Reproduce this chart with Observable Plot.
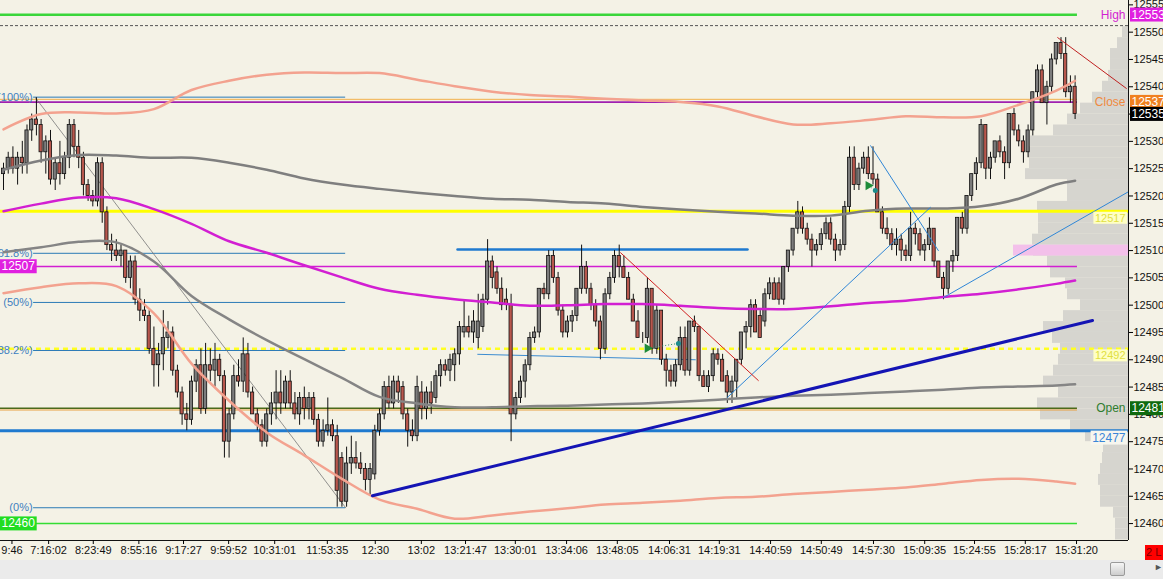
<!DOCTYPE html>
<html>
<head>
<meta charset="utf-8">
<script src="https://cdn.jsdelivr.net/npm/d3@7"></script>
<script src="https://cdn.jsdelivr.net/npm/@observablehq/plot@0.6"></script>
<style>
  body { margin: 0; width: 1163px; height: 579px; overflow: hidden; position: relative; background: #ebebeb; font-family: "Liberation Sans", Arial, sans-serif; }
  #chart svg { display: block; }
  #thumb { position: absolute; left: 1110px; top: 562px; width: 15px; height: 14px; box-sizing: border-box; border: 1px solid #9a9a9a; border-radius: 2px; background: linear-gradient(#f6f6f6, #cdcdcd); }
  #arrow { position: absolute; left: 1154px; top: 562px; font-size: 9px; color: #555; }
  #mode { position: absolute; left: 1145px; top: 545px; width: 18px; height: 15px; background: #ff0000; color: #7a0000; font-size: 11px; line-height: 15px; overflow: hidden; white-space: nowrap; padding-left: 1px; }
</style>
</head>
<body>
<div id="chart"></div>
<div id="thumb"></div>
<div id="arrow">&#9658;</div>
<div id="mode">2 L</div>
<script>
// candles [open, high, low, close], one per bar
const ohlc = [
  [12524,12526,12521,12525],[12525,12528,12524,12527],[12527,12529,12524,12525],[12525,12528,12522,12527],[12527,12530,12524,12526],
  [12526,12533,12524,12532],[12532,12535,12530,12534],[12534,12538,12531,12533],[12533,12534,12526,12528],[12528,12531,12524,12530],
  [12530,12532,12522,12523],[12523,12527,12521,12526],[12526,12530,12522,12524],[12524,12528,12523,12527],[12527,12534,12525,12533],
  [12533,12534,12527,12529],[12529,12532,12525,12527],[12527,12528,12520,12522],[12522,12523,12519,12520],[12520,12521,12518,12519],
  [12519,12527,12518,12526],[12526,12527,12515,12517],[12517,12518,12510,12511],[12511,12513,12508,12510],[12510,12512,12508,12509],
  [12509,12511,12507,12510],[12510,12510,12504,12505],[12505,12509,12503,12508],[12508,12509,12500,12501],[12501,12503,12497,12499],
  [12499,12501,12497,12498],[12498,12499,12491,12492],[12492,12496,12485,12489],[12489,12493,12485,12491],[12491,12499,12488,12494],
  [12494,12497,12492,12495],[12495,12496,12487,12488],[12488,12489,12483,12484],[12484,12485,12478,12480],[12480,12482,12477,12479],
  [12479,12487,12478,12486],[12486,12490,12484,12489],[12489,12492,12480,12481],[12481,12493,12480,12489],[12489,12492,12486,12488],
  [12488,12493,12485,12490],[12490,12491,12486,12487],[12487,12488,12472,12475],[12475,12481,12472,12480],[12480,12489,12479,12487],
  [12487,12490,12485,12486],[12486,12494,12484,12491],[12491,12493,12483,12484],[12484,12485,12480,12480],[12480,12481,12477,12478],
  [12478,12479,12474,12475],[12475,12481,12474,12480],[12480,12484,12478,12482],[12482,12488,12479,12484],[12484,12488,12480,12482],
  [12482,12487,12481,12486],[12486,12488,12481,12482],[12482,12484,12479,12480],[12480,12484,12478,12483],[12483,12485,12479,12481],
  [12481,12484,12479,12483],[12483,12484,12478,12479],[12479,12480,12474,12475],[12475,12479,12474,12477],[12477,12483,12476,12478],
  [12478,12479,12475,12476],[12476,12478,12463,12466],[12472,12473,12463,12464],[12464,12474,12463,12471],[12471,12476,12469,12472],
  [12472,12475,12470,12471],[12471,12473,12469,12470],[12470,12471,12466,12468],[12468,12471,12465,12470],
  [12469,12478,12468,12477],[12477,12481,12476,12480],[12480,12486,12479,12485],[12485,12487,12481,12482],[12482,12487,12481,12486],
  [12486,12487,12482,12484],[12485,12486,12479,12480],[12480,12481,12474,12477],[12477,12479,12475,12476],[12476,12487,12475,12485],
  [12484,12486,12479,12481],[12481,12485,12479,12484],[12484,12486,12480,12482],[12483,12488,12482,12487],[12487,12490,12485,12489],
  [12489,12490,12487,12488],[12488,12491,12486,12490],[12489,12492,12486,12491],[12491,12497,12489,12496],[12495,12501,12494,12496],
  [12496,12498,12494,12495],[12495,12499,12493,12497],[12494,12502,12492,12497],[12496,12502,12495,12501],[12501,12512,12500,12508],
  [12508,12509,12503,12505],[12506,12507,12502,12503],[12503,12505,12499,12500],[12501,12503,12499,12500],[12500,12502,12475,12480],
  [12480,12484,12479,12483],[12483,12487,12482,12486],[12486,12490,12483,12489],[12489,12495,12488,12494],[12494,12496,12493,12495],
  [12495,12503,12494,12503],[12503,12504,12501,12502],[12502,12510,12501,12509],[12509,12510,12504,12505],[12505,12506,12498,12499],
  [12499,12500,12494,12495],[12495,12498,12494,12497],[12497,12499,12495,12498],[12498,12503,12497,12503],[12503,12511,12502,12507],
  [12507,12508,12502,12503],[12503,12504,12499,12500],[12500,12501,12496,12497],[12497,12498,12490,12492],[12492,12503,12491,12502],
  [12502,12506,12501,12505],[12505,12510,12504,12509],[12509,12511,12505,12507],
  [12507,12509,12505,12505],[12505,12506,12501,12501],[12501,12502,12497,12497],[12497,12499,12494,12494],[12494,12495,12493,12494],
  [12494,12505,12493,12503],[12503,12503,12491,12492],[12492,12500,12491,12499],[12499,12499,12489,12490],[12490,12491,12485,12488],
  [12488,12489,12485,12486],[12486,12490,12485,12489],[12489,12496,12488,12494],[12494,12496,12487,12488],[12488,12497,12487,12497],
  [12497,12498,12495,12496],[12496,12496,12486,12487],[12487,12488,12485,12485],[12485,12488,12484,12487],[12487,12492,12486,12491],
  [12491,12492,12489,12490],[12490,12491,12486,12486],[12487,12488,12482,12484],[12484,12487,12482,12486],[12486,12490,12483,12490],
  [12490,12495,12489,12495],[12495,12497,12492,12496],[12496,12501,12494,12500],[12500,12501,12495,12495],[12498,12499,12494,12494],
  [12497,12503,12496,12502],[12502,12505,12501,12504],[12504,12505,12501,12501],[12504,12505,12500,12501],[12501,12507,12500,12507],
  [12507,12510,12506,12510],[12510,12514,12509,12514],[12514,12519,12513,12517],[12517,12518,12513,12514],[12514,12515,12511,12512],
  [12512,12513,12507,12510],[12510,12512,12509,12511],[12511,12514,12510,12513],[12513,12516,12512,12515],[12515,12516,12511,12512],
  [12512,12513,12508,12510],[12510,12512,12509,12511],[12511,12519,12510,12518],[12518,12529,12517,12527],[12527,12529,12521,12522],
  [12522,12526,12521,12525],[12525,12528,12524,12527],[12527,12529,12523,12524],[12524,12529,12522,12523],
  [12523,12524,12517,12517],[12517,12518,12513,12514],[12514,12516,12512,12513],[12513,12514,12510,12511],[12511,12514,12509,12512],
  [12512,12513,12508,12510],[12510,12511,12508,12509],[12509,12517,12508,12514],[12514,12515,12511,12513],[12513,12514,12509,12510],
  [12510,12512,12508,12511],[12511,12516,12510,12514],[12514,12514,12507,12508],[12508,12508,12505,12505],[12505,12506,12501,12503],
  [12503,12508,12502,12508],[12508,12510,12506,12509],[12509,12516,12508,12516],[12516,12517,12513,12514],[12514,12520,12513,12520],
  [12520,12524,12519,12524],[12524,12527,12521,12526],[12526,12534,12525,12533],[12533,12533,12523,12525],[12525,12528,12523,12527],
  [12527,12530,12526,12530],[12530,12531,12527,12528],[12528,12529,12523,12526],[12526,12535,12525,12535],[12535,12536,12531,12532],
  [12532,12533,12529,12530],[12530,12531,12526,12528],[12528,12533,12527,12532],[12532,12539,12531,12539],[12539,12544,12538,12543],
  [12543,12544,12537,12537],[12537,12541,12533,12540],[12540,12546,12539,12545],[12545,12548,12544,12548],[12548,12549,12545,12546],
  [12546,12549,12538,12539],[12539,12542,12537,12540],[12540,12542,12534,12535]
];

// moving averages / bands, sampled at these bar indices
const maIdx = [0,8,16,24,32,40,48,56,64,72,80,88,96,104,112,120,128,136,144,152,160,168,176,184,192,200,208,216,224,228];
const bandUpper = [12532.2,12535.0,12535.3,12535.1,12535.9,12539.4,12541.1,12542.2,12542.6,12542.5,12542.5,12541.3,12540.1,12539.1,12538.5,
  12538.2,12537.8,12537.5,12537.2,12536.4,12534.6,12533.1,12533.3,12533.9,12534.6,12534.4,12534.6,12536.7,12539.3,12541.1];
const bandLower = [12502.2,12503.3,12504.0,12503.5,12498.5,12489.3,12482.5,12476.7,12472.5,12468.2,12464.4,12462.7,12460.9,12461.5,12462.2,
  12462.8,12463.5,12463.8,12464.2,12464.7,12464.9,12465.4,12465.8,12466.2,12466.6,12467.3,12468.0,12468.2,12467.7,12467.3];
const maSlow = [12524.8,12526.5,12527.5,12527.4,12527.0,12527.0,12526.1,12524.8,12523.2,12522.1,12521.3,12520.6,12520.0,12519.5,12519.3,
  12518.9,12518.6,12518.0,12517.5,12517.1,12516.8,12516.4,12516.4,12517.3,12517.7,12517.7,12518.1,12519.5,12522.1,12522.8];
const maFast = [12509.7,12510.6,12511.6,12511.5,12508.0,12501.7,12497.4,12493.6,12490.1,12486.7,12483.2,12482.0,12481.3,12481.3,12481.5,
  12481.6,12481.8,12482.0,12482.3,12482.7,12483.1,12483.4,12483.6,12483.9,12484.2,12484.5,12484.9,12485.1,12485.3,12485.5];
const maMid = [12517.2,12518.6,12519.7,12519.6,12517.6,12514.9,12511.7,12509.6,12507.3,12505.1,12503.0,12501.9,12501.1,12500.5,12499.9,
  12500.0,12500.2,12500.2,12499.9,12499.5,12499.3,12499.3,12499.8,12500.4,12500.8,12501.5,12502.1,12502.9,12503.9,12504.5];

// volume profile (2-point bins)
const profilePrice = [12458,12460,12462,12464,12466,12468,12470,12472,12474,12476,12478,12480,12482,12484,12486,12488,12490,12492,12494,
  12496,12498,12500,12502,12504,12506,12508,12510,12512,12514,12516,12518,12520,12522,12524,12526,12528,12530,12532,12534,12536,12538,
  12540,12542,12544,12546,12548,12550];
const profileVol = [13,13,15,28,28,30,28,26,25,43,58,88,91,70,85,75,70,68,76,85,65,48,61,63,78,81,95,96,90,90,91,61,61,103,99,100,98,
  75,61,48,36,26,20,18,18,11,6];
const pocPrice = [12510];
const pocVol = [115];

// key levels
const HIGH = 12553.2, PREV_HIGH = 12551.2, CLOSE = 12537.2, CLOSE_REF = 12537.7;
const LVL_YELLOW = 12517.2, LVL_MAGENTA = 12507.1, LVL_YELLOW_DASH = 12492, OPEN = 12481.1, OPEN_REF = 12480.8;
const LVL_BLUE = 12477, LOW_LVL = 12460;

// fibonacci retracement
const fibLabels = ["(100%)","(61.8%)","(50%)","(38.2%)","(0%)"];
const fibPrice = [12538.1,12509.5,12500.5,12491.7,12462.9];
const fibSpan = [6.4, 72.8];
const fibDiagonal = [[6.8,12538.0],[72.8,12462.9]];

// drawn lines [bar index, price]
const rangeTop = [[96.6,12510.2],[158.3,12510.2]];
const rangeBottom = [[100.9,12491.0],[147.2,12490.0]];
const trendNavy = [[78.5,12465.1],[231.7,12497.2]];
const trendBlueA = [[154.0,12483.1],[197.2,12517.9]];
const trendBlueB = [[184.5,12529.2],[198.9,12510.0]];
const trendBlueC = [[200.0,12501.4],[239.4,12520.8]];
const trendRedA = [[131.3,12509.6],[160.6,12486.2]];
const trendRedB = [[224.3,12549.0],[238.9,12539.7]];

// trade marks
const entries = [[137.0,12492.1],[184.0,12521.9]];
const exits = [[143.6,12493.0],[185.5,12521.0]];

// axes
const yTicks = [12460,12465,12470,12475,12480,12485,12490,12495,12500,12505,12510,12515,12520,12525,12530,12535,12540,12545,12550,12555];
const tickIdx = [1.8,9.6,19.1,28.8,38.3,47.9,57.7,68.9,79.1,88.9,98.3,108.9,119.8,130.6,141.7,152.3,163.2,174,185.1,196,206.6,217.4,228.3];
const tickLabels = ["9:46","7:16:02","8:23:49","8:55:16","9:17:27","9:59:52","10:31:01","11:53:35","12:30","13:02","13:21:47",
  "13:30:01","13:34:06","13:48:05","14:06:31","14:19:31","14:40:59","14:50:49","14:57:30","15:09:35","15:24:55","15:28:17","15:31:20"];

const X0 = -0.64, X1 = 239.36, Y0 = 12456.9, Y1 = 12555.8;
const PX = 1128 / (X1 - X0);
const LAST = ohlc.length - 0.5;

const bars = ohlc.map(([o, h, l, c], i) => ({i, o, h, l, c}));
const ma = vals => maIdx.map((i, k) => ({i, p: vals[k]}));
const seg = pts => pts.map(([i, p]) => ({i, p}));
const labelOf = new Map(tickIdx.map((t, k) => [t, tickLabels[k]]));
const profile = profilePrice.map((p, k) => ({p, v: profileVol[k]}));
const poc = pocPrice.map((p, k) => ({p, v: pocVol[k]}));
const round = d => String(Math.round(d));

const level = (p, x1, x2, o) => Plot.ruleY([p], {x1: () => x1, x2: () => x2, ...o});
const line = (pts, o) => Plot.line(seg(pts), {x: "i", y: "p", ...o});
const boxText = (p, at, color, o) => Plot.text([p], {x: () => at, y: d => d, text: round, ariaDescription: "bg " + color, ...o});

const chart = Plot.plot({
  width: 1163,
  height: 560,
  marginLeft: 0,
  marginRight: 35,
  marginTop: 0,
  marginBottom: 20,
  x: {domain: [X0, X1], axis: null, label: null},
  y: {domain: [Y0, Y1], axis: null, label: null},
  color: {type: "identity"},
  style: {background: "#f4f2e6", fontFamily: "Liberation Sans, Arial, sans-serif", fontSize: "11px", color: "black"},
  marks: [
    // volume profile
    Plot.rect(profile, {x1: d => X1 - d.v / PX, x2: X1, y1: d => d.p - 1, y2: d => d.p + 1, fill: "#d6d5cf"}),
    Plot.rect(poc, {x1: d => X1 - d.v / PX, x2: X1, y1: d => d.p - 1, y2: d => d.p + 1, fill: "#f3c0ea"}),

    // horizontal levels
    level(HIGH, X0, LAST, {stroke: "#3ad63a", strokeWidth: 2.5}),
    level(PREV_HIGH, X0, X1, {stroke: "#555", strokeWidth: 1, strokeDasharray: "3,2"}),
    level(CLOSE_REF, X0, LAST, {stroke: "#f2b04a", strokeWidth: 1}),
    level(CLOSE, X0, LAST, {stroke: "#a020b0", strokeWidth: 1.8}),
    level(LVL_YELLOW, X0, X1, {stroke: "#ffff00", strokeWidth: 3}),
    level(LVL_MAGENTA, X0, LAST, {stroke: "#d21fd2", strokeWidth: 1.5}),
    level(LVL_YELLOW_DASH, X0, X1, {stroke: "#ffff22", strokeWidth: 2.5, strokeDasharray: "5,4"}),
    level(OPEN_REF, X0, LAST, {stroke: "#e8a040", strokeWidth: 1}),
    level(OPEN, X0, LAST, {stroke: "#4b6a1a", strokeWidth: 1.5}),
    level(LVL_BLUE, X0, X1, {stroke: "#1f7acf", strokeWidth: 3}),
    level(LOW_LVL, X0, LAST, {stroke: "#33dd33", strokeWidth: 1.5}),

    // fibonacci
    Plot.ruleY(fibPrice, {x1: () => fibSpan[0], x2: () => fibSpan[1], stroke: "#2c7bb6", strokeWidth: 1}),
    line(fibDiagonal, {stroke: "#777", strokeWidth: 0.8}),
    Plot.text(fibPrice, {x: () => fibSpan[0], y: d => d, text: (d, k) => fibLabels[k], textAnchor: "end", dx: -1, fill: "#3d7fc0"}),

    // range lines
    line(rangeTop, {stroke: "#1f7acf", strokeWidth: 2.5}),
    line(rangeBottom, {stroke: "#3c8cd0", strokeWidth: 1}),

    // candles
    Plot.ruleX(bars, {x: "i", y1: "l", y2: "h", stroke: "#111", strokeWidth: 1}),
    Plot.rect(bars, {
      x1: d => d.i - 0.34, x2: d => d.i + 0.34,
      y1: d => Math.min(d.o, d.c), y2: d => Math.max(d.o, d.c),
      fill: d => d.c >= d.o ? "#7c7c7c" : "#b8574d", stroke: "#111", strokeWidth: 0.8
    }),

    // moving averages and bands
    Plot.line(ma(maFast), {x: "i", y: "p", curve: "catmull-rom", stroke: "#858585", strokeWidth: 2.5}),
    Plot.line(ma(maSlow), {x: "i", y: "p", curve: "catmull-rom", stroke: "#7f7f7f", strokeWidth: 2.5}),
    Plot.line(ma(maMid), {x: "i", y: "p", curve: "catmull-rom", stroke: "#d21fd2", strokeWidth: 2.5}),
    Plot.line(ma(bandUpper), {x: "i", y: "p", curve: "catmull-rom", stroke: "#f3a28f", strokeWidth: 2.5}),
    Plot.line(ma(bandLower), {x: "i", y: "p", curve: "catmull-rom", stroke: "#f3a28f", strokeWidth: 2.5}),

    // trend lines
    line(trendNavy, {stroke: "#1414b4", strokeWidth: 3}),
    line(trendBlueA, {stroke: "#2f86d6", strokeWidth: 1}),
    line(trendBlueB, {stroke: "#2f86d6", strokeWidth: 1}),
    line(trendBlueC, {stroke: "#2f86d6", strokeWidth: 1}),
    line(trendRedA, {stroke: "#d02020", strokeWidth: 1}),
    line(trendRedB, {stroke: "#c02020", strokeWidth: 1}),

    // trade marks
    Plot.link(entries.map((e, k) => ({e, x: exits[k]})), {
      x1: d => d.e[0], y1: d => d.e[1], x2: d => d.x[0], y2: d => d.x[1], stroke: "#2a8a6a", strokeDasharray: "1,2"
    }),
    Plot.dot(seg(entries), {x: "i", y: "p", symbol: "triangle", r: 3.5, rotate: 90, fill: "#1e8c3a"}),
    Plot.dot(seg(exits), {x: "i", y: "p", r: 2.5, fill: "#1c8c8c"}),

    // axes
    Plot.ruleX([X1], {stroke: "#111"}),
    Plot.ruleY([Y0], {stroke: "#111"}),
    Plot.axisY(yTicks, {anchor: "right", tickSize: 4, tickPadding: 1, tickFormat: d => String(d), label: null, fill: "#111"}),
    Plot.axisX(tickIdx, {anchor: "bottom", tickSize: 4, tickPadding: 2, tickFormat: d => labelOf.get(d), label: null, fill: "#111"}),

    // right-hand labels
    Plot.text([HIGH], {x: () => X1, y: d => d, text: () => "High", textAnchor: "end", dx: -3, fill: "#d21fd2", fontSize: 12}),
    Plot.text([CLOSE], {x: () => X1, y: d => d, text: () => "Close", textAnchor: "end", dx: -3, fill: "#f08a40", fontSize: 12}),
    boxText(LVL_YELLOW, X1, "#ffffc4", {textAnchor: "end", dx: -3, dy: 7, fill: "#e0e040"}),
    boxText(LVL_YELLOW_DASH, X1, "#ffffc4", {textAnchor: "end", dx: -3, dy: 7, fill: "#e0e040"}),
    Plot.text([OPEN], {x: () => X1, y: d => d, text: () => "Open", textAnchor: "end", dx: -3, fill: "#2f7d2f", fontSize: 12}),
    boxText(LVL_BLUE, X1, "#f7f6ee", {textAnchor: "end", dx: -3, dy: 7, fill: "#3a86d8", fontSize: 12}),

    // axis value boxes
    boxText(HIGH, X1, "#e020e0", {textAnchor: "start", dx: 3, fill: "white", fontSize: 12}),
    boxText(CLOSE, X1, "#f08020", {textAnchor: "start", dx: 3, fill: "white", fontSize: 12}),
    boxText(ohlc[ohlc.length - 1][3], X1, "#000000", {textAnchor: "start", dx: 3, fill: "white", fontSize: 12}),
    boxText(OPEN, X1, "#0f6a0f", {textAnchor: "start", dx: 3, fill: "white", fontSize: 12}),

    // left boxes
    boxText(LVL_MAGENTA, X0, "#e020e0", {textAnchor: "start", dx: 1, fill: "white", fontSize: 12}),
    boxText(LOW_LVL, X0, "#22dd22", {textAnchor: "start", dx: 1, fill: "white", fontSize: 12})
  ]
});

document.getElementById("chart").append(chart);

// background boxes behind the boxed labels
d3.select(chart).selectAll("g[aria-description]").each(function() {
  const desc = this.getAttribute("aria-description") || "";
  if (!desc.startsWith("bg ")) return;
  const color = desc.slice(3);
  d3.select(this).selectAll("text").each(function() {
    const b = this.getBBox();
    d3.select(this.parentNode).insert("rect", () => this)
      .attr("x", b.x - 1.5).attr("y", b.y)
      .attr("width", b.width + 3).attr("height", b.height)
      .attr("transform", this.getAttribute("transform"))
      .attr("fill", color);
  });
});
</script>
</body>
</html>
